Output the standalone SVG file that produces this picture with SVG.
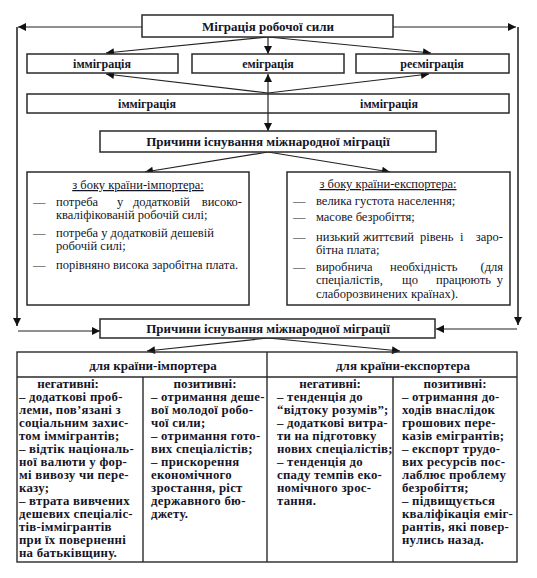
<svg xmlns="http://www.w3.org/2000/svg" width="537" height="578" viewBox="0 0 537 578" font-family="Liberation Serif, Times New Roman, serif">
<style>
text{font-family:'Liberation Serif','Times New Roman',serif;fill:#141428;font-size:12.5px}
.b{font-weight:bold;font-size:13px}
.r{font-weight:bold;font-size:12px}
.c{text-anchor:middle}
.e{text-anchor:end}
.t{font-size:12.8px;font-weight:bold;letter-spacing:0.25px}
.box{fill:#fff;stroke:#2a2a2a;stroke-width:1.5}
.ln{fill:none;stroke:#222;stroke-width:1.2}
.side{fill:none;stroke:#555;stroke-width:2}
.grid{fill:none;stroke:#2a2a2a;stroke-width:1.4}
</style>
<defs>
<marker id="ah" viewBox="0 0 10 10" refX="10" refY="5" markerWidth="9" markerHeight="8" markerUnits="userSpaceOnUse" orient="auto-start-reverse">
<path d="M0,0 L10,5 L0,10 z" fill="#111"/>
</marker>
</defs>
<rect width="537" height="578" fill="#fff"/>

<g id="connectors">
<line class="ln" x1="142" y1="27" x2="18" y2="27" marker-end="url(#ah)"/>
<line class="side" x1="17" y1="27" x2="17" y2="326" marker-end="url(#ah)"/>
<line class="ln" x1="18" y1="331" x2="100" y2="331" marker-end="url(#ah)"/>
<line class="ln" x1="393" y1="27" x2="516" y2="27" marker-end="url(#ah)"/>
<line class="side" x1="518" y1="27" x2="518" y2="325" marker-end="url(#ah)"/>
<line class="ln" x1="517" y1="329" x2="436" y2="329" marker-end="url(#ah)"/>
<line class="ln" x1="268" y1="37" x2="268" y2="54" marker-end="url(#ah)"/>
<line class="ln" x1="268" y1="37" x2="106" y2="53" marker-end="url(#ah)"/>
<line class="ln" x1="268" y1="37" x2="431" y2="53" marker-end="url(#ah)"/>
<line class="ln" x1="268" y1="93" x2="106" y2="74" marker-end="url(#ah)"/>
<line class="ln" x1="268" y1="93" x2="429" y2="74" marker-end="url(#ah)"/>
<line class="ln" x1="268" y1="74" x2="268" y2="131" marker-start="url(#ah)" marker-end="url(#ah)"/>
<line class="ln" x1="268" y1="152" x2="145" y2="172" marker-end="url(#ah)"/>
<line class="ln" x1="268" y1="152" x2="390" y2="172" marker-end="url(#ah)"/>
<line class="ln" x1="268" y1="338" x2="147" y2="351" marker-end="url(#ah)"/>
<line class="ln" x1="268" y1="338" x2="400" y2="351" marker-end="url(#ah)"/>
</g>

<g id="n-migration">
<rect class="box" x="142" y="15" width="251" height="22"/>
<text class="b c" x="268" y="30.5">Міграція робочої сили</text>
</g>
<g id="n-immigration1">
<rect class="box" x="27" y="54" width="151" height="19"/>
<text class="r c" x="102" y="68">імміграція</text>
</g>
<g id="n-emigration">
<rect class="box" x="192" y="54" width="152" height="19"/>
<text class="r c" x="268" y="68">еміграція</text>
</g>
<g id="n-reemigration">
<rect class="box" x="356" y="54" width="153" height="19"/>
<text class="r c" x="432" y="68">реєміграція</text>
</g>
<g id="n-immigration2">
<rect class="box" x="27" y="94" width="482" height="19" style="fill:none"/>
<text class="r c" x="147" y="108">імміграція</text>
<text class="r c" x="389" y="108">імміграція</text>
</g>

<g id="n-causes1">
<rect class="box" x="100" y="131" width="336" height="21"/>
<text class="b c" x="268" y="146">Причини існування міжнародної міграції</text>
</g>

<g id="n-importer">
<rect class="box" x="27" y="172" width="222" height="133"/>
<text class="c" x="138" y="189" text-decoration="underline">з боку країни-імпортера:</text>
<text x="33" y="206">—</text>
<text x="56" y="206">потреба</text>
<text x="117" y="206">у</text>
<text x="133" y="206">додатковій</text>
<text class="e" x="242" y="206">високо-</text>
<text x="56" y="219">кваліфікованій робочій силі;</text>
<text x="33" y="237">—</text>
<text x="56" y="237">потреба у додатковій дешевій</text>
<text x="56" y="250">робочій силі;</text>
<text x="33" y="268.5">—</text>
<text x="56" y="268.5">порівняно висока заробітна плата.</text>
</g>

<g id="n-exporter">
<rect class="box" x="287" y="172" width="223" height="133"/>
<text class="c" x="388" y="188" text-decoration="underline">з боку країни-експортера:</text>
<text x="293" y="205">—</text>
<text x="316" y="205">велика густота населення;</text>
<text x="293" y="221">—</text>
<text x="316" y="221">масове безробіття;</text>
<text x="293" y="240.5">—</text>
<text x="316" y="240.5">низький</text>
<text x="363" y="240.5">життєвий</text>
<text x="420" y="240.5">рівень</text>
<text x="460" y="240.5">і</text>
<text class="e" x="503" y="240.5">заро-</text>
<text x="316" y="254">бітна плата;</text>
<text x="293" y="270.5">—</text>
<text x="316" y="270.5">виробнича</text>
<text x="390" y="270.5">необхідність</text>
<text class="e" x="503" y="270.5">(для</text>
<text x="316" y="284">спеціалістів,</text>
<text x="402" y="284">що</text>
<text x="436" y="284">працюють</text>
<text class="e" x="503" y="284">у</text>
<text x="316" y="297.5">слаборозвинених країнах).</text>
</g>

<g id="n-causes2">
<rect class="box" x="100" y="319" width="335" height="19"/>
<text class="b c" x="268" y="333">Причини існування міжнародної міграції</text>
</g>

<g id="n-table">
<rect class="grid" x="17" y="352" width="500" height="210"/>
<line class="grid" x1="17" y1="377" x2="517" y2="377"/>
<line class="grid" x1="267" y1="352" x2="267" y2="562"/>
<line class="grid" x1="143" y1="377" x2="143" y2="562"/>
<line class="grid" x1="393" y1="377" x2="393" y2="562"/>
</g>
<g id="n-imp-head">
<text class="b c" x="153" y="369.5">для країни-імпортера</text>
</g>
<g id="n-exp-head">
<text class="b c" x="403" y="369.5">для країни-експортера</text>
</g>
<g id="n-imp-neg">
<text class="b c" x="68" y="388">негативні:</text>
<text class="t" x="19" y="401">– додаткові проб-</text>
<text class="t" x="19" y="414">леми, пов’язані з</text>
<text class="t" x="19" y="427">соціальним захис-</text>
<text class="t" x="19" y="440">том іммігрантів;</text>
<text class="t" x="19" y="453">– відтік національ-</text>
<text class="t" x="19" y="466">ної валюти у фор-</text>
<text class="t" x="19" y="479">мі вивозу чи пере-</text>
<text class="t" x="19" y="492">казу;</text>
<text class="t" x="19" y="505">– втрата вивчених</text>
<text class="t" x="19" y="518">дешевих спеціаліс-</text>
<text class="t" x="19" y="531">тів-іммігрантів</text>
<text class="t" x="19" y="544">при їх поверненні</text>
<text class="t" x="19" y="557">на батьківщину.</text>
</g>
<g id="n-imp-pos">
<text class="b c" x="205" y="388">позитивні:</text>
<text class="t" x="151" y="401">– отримання деше-</text>
<text class="t" x="151" y="414">вої молодої робо-</text>
<text class="t" x="151" y="427">чої сили;</text>
<text class="t" x="151" y="440">– отримання гото-</text>
<text class="t" x="151" y="453">вих спеціалістів;</text>
<text class="t" x="151" y="466">– прискорення</text>
<text class="t" x="151" y="479">економічного</text>
<text class="t" x="151" y="492">зростання, ріст</text>
<text class="t" x="151" y="505">державного бю-</text>
<text class="t" x="151" y="518">джету.</text>
</g>
<g id="n-exp-neg">
<text class="b c" x="330" y="388">негативні:</text>
<text class="t" x="277" y="401">– тенденція до</text>
<text class="t" x="277" y="414">“відтоку розумів”;</text>
<text class="t" x="277" y="427">– додаткові витра-</text>
<text class="t" x="277" y="440">ти на підготовку</text>
<text class="t" x="277" y="453">нових спеціалістів;</text>
<text class="t" x="277" y="466">– тенденція до</text>
<text class="t" x="277" y="479">спаду темпів еко-</text>
<text class="t" x="277" y="492">номічного зрос-</text>
<text class="t" x="277" y="505">тання.</text>
</g>
<g id="n-exp-pos">
<text class="b c" x="455" y="388">позитивні:</text>
<text class="t" x="402" y="401">– отримання до-</text>
<text class="t" x="402" y="414">ходів внаслідок</text>
<text class="t" x="402" y="427">грошових пере-</text>
<text class="t" x="402" y="440">казів емігрантів;</text>
<text class="t" x="402" y="453">– експорт трудо-</text>
<text class="t" x="402" y="466">вих ресурсів пос-</text>
<text class="t" x="402" y="479">лаблює проблему</text>
<text class="t" x="402" y="492">безробіття;</text>
<text class="t" x="402" y="505">– підвищується</text>
<text class="t" x="402" y="518">кваліфікація еміг-</text>
<text class="t" x="402" y="531">рантів, які повер-</text>
<text class="t" x="402" y="544">нулись назад.</text>
</g>
</svg>
